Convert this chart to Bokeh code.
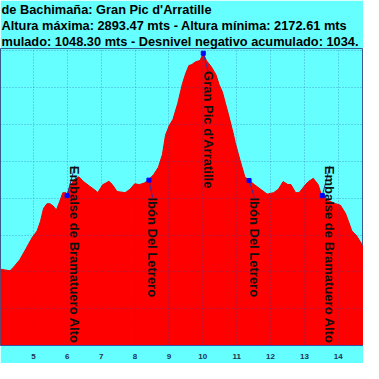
import math
from bokeh.plotting import figure
from bokeh.models import Range1d, FixedTicker, Title
from bokeh.core.properties import value
from bokeh.embed import file_html
from bokeh.resources import INLINE

# ---- profile data (distance km, elevation m) ----
dist_km = [4.03, 4.17, 4.31, 4.41, 4.60, 4.79, 4.97, 5.11, 5.21, 5.30, 5.40, 5.49, 5.58,
           5.68, 5.77, 5.87, 5.96, 5.995, 6.06, 6.20, 6.34, 6.48, 6.67, 6.86, 6.90, 7.05,
           7.14, 7.23, 7.33, 7.47, 7.56, 7.71, 7.85, 7.99, 8.13, 8.27, 8.39, 8.55, 8.69,
           8.81, 8.90, 9.01, 9.12, 9.26, 9.40, 9.49, 9.59, 9.68, 9.78, 9.92, 10.014, 10.11,
           10.25, 10.39, 10.48, 10.58, 10.67, 10.77, 10.91, 10.96, 11.10, 11.24, 11.37,
           11.52, 11.71, 11.90, 12.09, 12.23, 12.37, 12.51, 12.60, 12.74, 12.84, 12.93,
           13.03, 13.12, 13.26, 13.41, 13.50, 13.53, 13.69, 13.92, 14.06, 14.21, 14.30,
           14.40, 14.54, 14.68, 14.75]
elev_m = [2307, 2305, 2303, 2312, 2333, 2364, 2394, 2411, 2437, 2472, 2485, 2485, 2479,
          2468, 2489, 2515, 2515, 2507, 2528, 2550, 2558, 2545, 2532, 2519, 2515, 2537,
          2541, 2546, 2537, 2518, 2517, 2515, 2524, 2539, 2537, 2541, 2549, 2564, 2584,
          2619, 2671, 2697, 2714, 2757, 2811, 2837, 2860, 2863, 2870, 2874, 2893.47, 2873,
          2857, 2835, 2809, 2788, 2757, 2723, 2671, 2650, 2603, 2558, 2548,
          2537, 2524, 2511, 2515, 2524, 2545, 2537, 2537, 2515, 2515, 2525,
          2537, 2545, 2554, 2536, 2508, 2507, 2494, 2485, 2481, 2459, 2437,
          2411, 2398, 2377, 2359]

km_ticks = [5, 6, 7, 8, 9, 10, 11, 12, 13, 14]
elev_grid = [2100, 2200, 2300, 2400, 2500, 2600, 2700, 2800, 2900]

# ---- waypoints ----
wp_names = ["Embalse de Bramatuero Alto", "Ibón Del Letrero", "Gran Pic d'Arratille",
            "Ibón Del Letrero", "Embalse de Bramatuero Alto"]
wp_km = [5.995, 8.411, 10.014, 11.366, 13.528]
wp_elev = [2507, 2549, 2893.47, 2548, 2507]
lbl_km = [6.227, 8.519, 10.155, 11.521, 13.754]
lbl_elev = [2588, 2502, 2845, 2502, 2588]

title_lines = ["de Bachimaña: Gran Pic d'Arratille",
               "Altura máxima: 2893.47 mts - Altura mínima: 2172.61 mts",
               "mulado: 1048.30 mts - Desnivel negativo acumulado: 1034."]

CYAN = "#66ffff"

p = figure(width=363, height=363, output_backend="svg", toolbar_location=None,
           x_range=Range1d(4.0305, 14.743), y_range=Range1d(2100, 2906.4),
           y_axis_location=None, min_border_left=0, min_border_right=0,
           min_border_top=0, min_border_bottom=18,
           background_fill_color=CYAN, border_fill_color=CYAN)
p.outline_line_color = "#3a5a8a"

p.varea(x=dist_km, y1=2100, y2=elev_m, fill_color="#ff0000")
p.line(x=dist_km, y=elev_m, line_color="#ee0000", line_width=1)

p.segment(x0=wp_km, y0=wp_elev, x1=lbl_km, y1=lbl_elev, line_color="#3030a0", line_width=1)
p.scatter(x=wp_km, y=wp_elev, marker="square", size=4, color="#0000ff")
p.text(x=lbl_km, y=lbl_elev, text=wp_names, angle=-math.pi / 2,
       text_align="left", text_baseline="middle",
       text_font=value("Liberation Sans"), text_font_size="13px",
       text_font_style="bold", text_color="#111111")

p.xaxis.ticker = FixedTicker(ticks=km_ticks)
p.xgrid.ticker = FixedTicker(ticks=km_ticks)
p.ygrid.ticker = FixedTicker(ticks=elev_grid)
for g in (p.xgrid, p.ygrid):
    g.grid_line_color = "#2040a0"
    g.grid_line_alpha = 0.45
    g.grid_line_dash = "1 2"
    g.level = "annotation"

ax = p.xaxis[0]
ax.axis_line_color = "#4050a0"
ax.major_tick_line_color = None
ax.minor_tick_line_color = None
ax.major_label_standoff = 2
ax.major_label_text_font = "Liberation Sans"
ax.major_label_text_font_size = "8px"
ax.major_label_text_font_style = "bold"
ax.major_label_text_color = "#1f3350"


def style_title(t):
    t.text_font = "Liberation Sans"
    t.text_font_size = "12.8px"
    t.text_font_style = "bold"
    t.text_color = "#000000"
    t.align = "left"
    t.offset = 1
    t.standoff = -1


# plot title is outermost; added titles stack outward from the frame
p.title.text = title_lines[0]
style_title(p.title)
for txt in [title_lines[2], title_lines[1]]:
    t = Title(text=txt)
    style_title(t)
    p.add_layout(t, "above")

open("out.html", "w").write(file_html(p, INLINE))
